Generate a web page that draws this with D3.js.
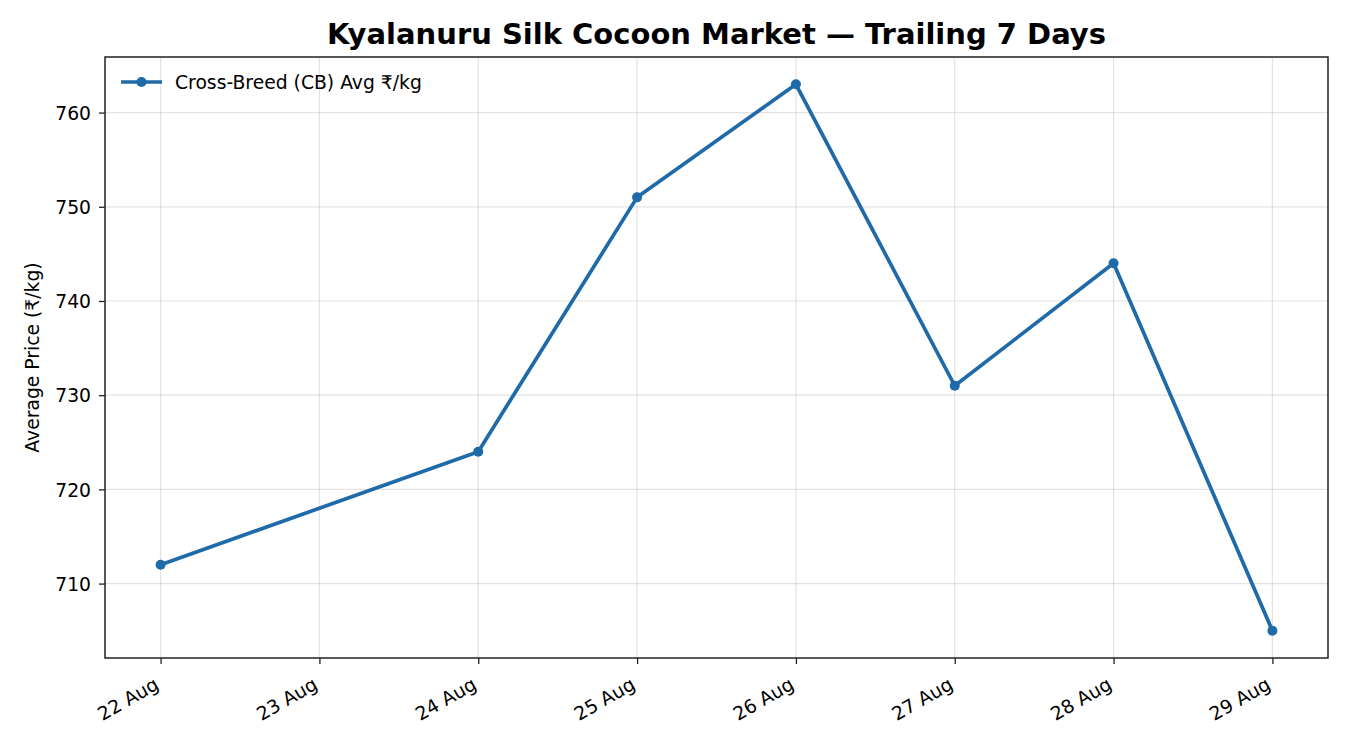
<!DOCTYPE html>
<html><head><meta charset="utf-8">
<script src="https://cdn.jsdelivr.net/npm/d3@7"></script>
<style>body{margin:0;background:#fff;} svg{font-family:"DejaVu Sans",sans-serif;}</style>
</head><body>
<svg id="c" width="1350" height="750"></svg>
<script>
const dates = ["2024-08-22","2024-08-24","2024-08-25","2024-08-26","2024-08-27","2024-08-28","2024-08-29"];
const prices = [712, 724, 751, 763, 731, 744, 705];
const yTicks = [710, 720, 730, 740, 750, 760];
const seriesName = "Cross-Breed (CB) Avg ₹/kg";
const titleText = "Kyalanuru Silk Cocoon Market — Trailing 7 Days";
const yLabel = "Average Price (₹/kg)";

const parse = d3.timeParse("%Y-%m-%d");
const data = dates.map((d,i)=>({date:parse(d), v:prices[i]}));
const svg = d3.select("#c");
const m = {l:105, r:1328, t:57, b:658};
const color = "#1f6aa8";
const fs = 18.75;
const font = "DejaVu Sans";

const x0 = parse("2024-08-22"), x1 = parse("2024-08-29");
const span = x1 - x0, pad = span*0.05;
const x = d3.scaleTime().domain([new Date(+x0-pad), new Date(+x1+pad)]).range([m.l, m.r]);
const ymin = d3.min(prices), ymax = d3.max(prices), yp = (ymax-ymin)*0.05;
const y = d3.scaleLinear().domain([ymin-yp, ymax+yp]).range([m.b, m.t]);

const xTicks = d3.timeDay.range(x0, d3.timeDay.offset(x1,1));

// grid
const g = svg.append("g");
g.selectAll(".gx").data(xTicks).enter().append("line")
  .attr("x1",d=>x(d)).attr("x2",d=>x(d)).attr("y1",m.t).attr("y2",m.b)
  .attr("stroke","#b0b0b0").attr("stroke-opacity",0.35).attr("stroke-width",1.2);
g.selectAll(".gy").data(yTicks).enter().append("line")
  .attr("x1",m.l).attr("x2",m.r).attr("y1",d=>y(d)).attr("y2",d=>y(d))
  .attr("stroke","#b0b0b0").attr("stroke-opacity",0.35).attr("stroke-width",1.2);

// axes
const xAxis = svg.append("g").attr("transform",`translate(0,${m.b})`)
  .call(d3.axisBottom(x).tickValues(xTicks).tickFormat(d3.timeFormat("%d %b")).tickSize(6).tickSizeOuter(0))
  .attr("font-family",font).attr("font-size",fs);
xAxis.select(".domain").remove();
xAxis.selectAll("line").attr("stroke","#222").attr("stroke-width",1.3);
xAxis.selectAll("text").attr("fill","#000")
  .attr("text-anchor","end").attr("dy",null).attr("y",0)
  .attr("transform","translate(-1,30) rotate(-30)");

const yAxis = svg.append("g").attr("transform",`translate(${m.l},0)`)
  .call(d3.axisLeft(y).tickValues(yTicks).tickSize(6).tickSizeOuter(0))
  .attr("font-family",font).attr("font-size",fs);
yAxis.select(".domain").remove();
yAxis.selectAll("line").attr("stroke","#222").attr("stroke-width",1.3);
yAxis.selectAll("text").attr("fill","#000").attr("x",-14).attr("dy","0.36em");

// frame
svg.append("rect").attr("x",m.l).attr("y",m.t).attr("width",m.r-m.l).attr("height",m.b-m.t)
  .attr("fill","none").attr("stroke","#222").attr("stroke-width",1.5);

// line
const line = d3.line().x(d=>x(d.date)).y(d=>y(d.v));
svg.append("path").datum(data).attr("d",line).attr("fill","none")
  .attr("stroke",color).attr("stroke-width",3.7).attr("stroke-linejoin","round");
svg.selectAll(".pt").data(data).enter().append("circle")
  .attr("cx",d=>x(d.date)).attr("cy",d=>y(d.v)).attr("r",5).attr("fill",color);

// title
svg.append("text").attr("x",(m.l+m.r)/2).attr("y",44).attr("text-anchor","middle")
  .attr("font-size",29).attr("font-weight","bold").text(titleText);

// y label
svg.append("text").attr("transform",`translate(39,${(m.t+m.b)/2}) rotate(-90)`)
  .attr("text-anchor","middle").attr("font-size",fs).text(yLabel);

// legend
const lg = svg.append("g").attr("transform","translate(121,82)");
lg.append("line").attr("x1",0).attr("x2",41).attr("y1",0).attr("y2",0).attr("stroke",color).attr("stroke-width",3.7);
lg.append("circle").attr("cx",20.5).attr("cy",0).attr("r",5).attr("fill",color);
lg.append("text").attr("x",54).attr("y",6.5).attr("font-size",fs).text(seriesName);
</script>
</body></html>
